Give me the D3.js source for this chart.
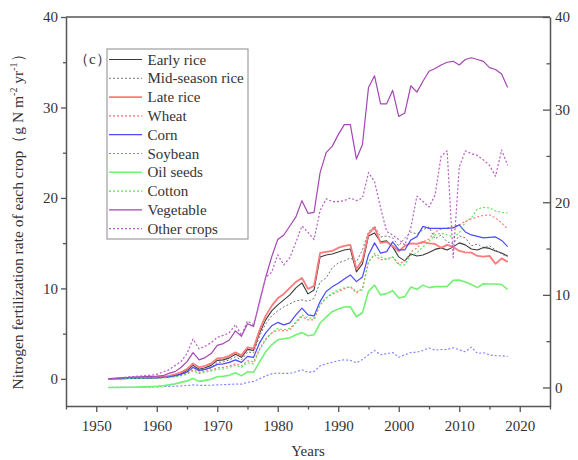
<!DOCTYPE html>
<html>
<head>
<meta charset="utf-8">
<script src="https://cdn.jsdelivr.net/npm/d3@7"></script>
<style>
  html, body { margin: 0; padding: 0; background: #fff; }
  svg { display: block; }
  text { font-family: "Liberation Serif", "Times New Roman", serif; fill: #333; }
</style>
</head>
<body>
<svg id="chart" width="578" height="460"></svg>
<script>
// Years of record
const years = [1952,1953,1954,1955,1956,1957,1958,1959,1960,
  1961,1962,1963,1964,1965,1966,1967,1968,1969,1970,
  1971,1972,1973,1974,1975,1976,1977,1978,1979,1980,
  1981,1982,1983,1984,1985,1986,1987,1988,1989,1990,
  1991,1992,1993,1994,1995,1996,1997,1998,1999,2000,
  2001,2002,2003,2004,2005,2006,2007,2008,2009,2010,
  2011,2012,2013,2014,2015,2016,2017,2018];

// Nitrogen fertilization rate by crop (g N m-2 yr-1)
const earlyRice = [0,0.02,0.04,0.05,0.07,0.08,0.1,0.11,0.13,
  0.15,0.22,0.39,0.57,0.94,1.49,1.07,1.22,1.49,2.04,
  2.10,2.32,2.71,2.38,3.26,3.15,5.08,6.52,7.51,8.18,
  8.73,9.28,10.06,10.61,9.39,9.83,13.48,13.70,13.81,14.03,
  14.25,14.36,11.82,12.71,15.80,16.13,15.14,15.25,14.59,13.48,
  13.04,13.81,13.59,13.70,13.98,14.31,14.48,14.25,14.59,15.03,
  14.81,14.36,14.25,14.53,14.42,14.14,13.92,13.59];
const midRice = [0,0.02,0.03,0.05,0.06,0.07,0.09,0.1,0.12,
  0.13,0.19,0.30,0.44,0.72,1.22,0.88,0.99,1.22,1.82,
  1.88,2.10,2.43,2.10,2.98,2.87,4.75,6.08,6.96,7.51,
  7.96,8.29,8.62,8.73,8.56,8.90,10.72,11.16,12.27,12.82,
  13.04,13.37,12.93,14.25,16.24,16.91,15.69,15.80,15.58,14.70,
  15.58,16.24,16.02,16.46,16.80,15.47,15.91,15.14,14.92,15.80,
  15.58,14.70,14.92,14.48,14.70,14.25,13.81,13.48];
const lateRice = [0,0.02,0.04,0.07,0.09,0.11,0.13,0.17,0.2,
  0.24,0.33,0.5,0.72,1.1,1.71,1.27,1.44,1.71,2.27,
  2.32,2.54,2.93,2.6,3.48,3.37,5.41,6.96,8.07,8.9,
  9.39,10.06,10.72,11.16,9.94,10.28,13.92,14.03,14.14,14.48,
  14.7,14.81,12.15,13.15,16.02,16.74,15.03,15.14,14.7,14.09,
  14.7,14.97,14.92,15.14,14.97,14.92,14.48,14.81,14.59,14.14,
  13.98,13.95,13.59,13.51,13.59,12.71,13.32,12.93];
const wheat = [0,0.01,0.02,0.03,0.04,0.05,0.06,0.07,0.09,
  0.11,0.17,0.28,0.39,0.61,0.99,0.72,0.83,0.99,1.22,
  1.27,1.44,1.66,1.44,1.99,1.88,3.31,4.42,5.08,5.41,
  5.30,5.41,6.19,6.88,6.52,6.52,8.18,8.95,9.34,9.65,
  9.94,10.20,9.47,10.02,12.93,13.70,13.15,13.26,13.48,12.71,
  13.04,14.03,14.48,15.14,15.47,16.24,16.57,16.69,16.80,17.02,
  17.40,17.68,17.90,18.07,18.12,17.79,17.24,16.57];
const corn = [0,0.01,0.02,0.04,0.05,0.06,0.07,0.09,0.1,
  0.17,0.22,0.33,0.50,0.77,1.27,0.94,1.05,1.27,1.60,
  1.66,1.82,2.10,1.82,2.49,2.38,3.98,5.08,5.86,6.24,
  5.97,6.19,7.07,7.81,7.07,6.96,8.54,9.65,10.17,10.57,
  11.05,11.49,10.75,11.27,13.70,15.03,13.89,14.07,15.14,14.25,
  14.25,15.36,15.72,16.85,16.63,16.63,16.63,16.63,16.69,17.02,
  16.24,15.91,15.75,15.58,15.64,15.69,15.30,14.62];
const soybean = [0,0.01,0.01,0.01,0.01,0.01,0.02,0.04,0.06,
  0.09,0.12,0.14,0.17,0.21,0.28,0.23,0.23,0.25,0.28,
  0.30,0.34,0.37,0.36,0.55,0.66,0.93,1.26,1.47,1.55,
  1.52,1.52,1.69,1.91,1.64,1.72,2.34,2.55,2.72,2.88,
  2.99,2.94,2.66,3.02,3.53,4.00,3.53,3.64,3.78,3.26,
  3.53,3.78,3.81,4.00,4.26,4.04,4.10,4.10,4.29,4.07,
  3.85,4.36,3.68,3.75,3.53,3.42,3.42,3.35];
const oilSeeds = [0,0,0.01,0.02,0.03,0.04,0.06,0.09,0.12,
  0.17,0.28,0.39,0.55,0.71,0.98,0.66,0.77,0.88,1.15,
  1.21,1.31,1.58,1.26,1.69,1.64,2.77,3.85,4.61,5.15,
  5.26,5.37,5.69,5.94,5.58,5.69,6.96,7.60,8.18,8.48,
  8.69,8.72,7.64,8.07,10.38,11.05,10.00,10.13,10.45,9.67,
  9.81,10.84,10.60,11.05,10.78,10.89,10.89,10.92,11.57,11.59,
  11.38,11.11,10.78,11.20,11.18,11.18,11.11,10.60];
const cotton = [0,0.01,0.02,0.03,0.04,0.05,0.06,0.07,0.09,
  0.11,0.14,0.22,0.33,0.50,0.88,0.61,0.72,0.88,1.05,
  1.10,1.27,1.49,1.27,1.77,1.66,3.20,4.31,5.08,5.58,
  5.41,5.60,6.30,7.07,6.74,6.71,8.18,8.95,9.50,9.83,
  10.06,10.20,9.65,9.83,12.93,13.87,13.48,13.15,13.48,12.60,
  12.60,13.65,13.92,14.59,15.19,15.91,16.10,15.91,15.64,16.13,
  17.35,17.79,18.78,18.95,18.90,18.56,18.40,18.34];
const vegetable = [0,0.05,0.1,0.15,0.2,0.22,0.25,0.28,0.3,
  0.35,0.6,0.8,1.25,1.9,2.9,2.1,2.35,2.8,3.7,
  3.9,4.3,5.3,4.7,6.1,5.8,8.6,11.2,13.5,15.4,
  15.9,16.9,17.9,19.7,18.3,18.4,22.8,25.0,25.7,27.0,
  28.1,28.1,24.3,25.9,32.2,33.5,30.4,30.4,31.9,29.0,
  29.4,32.4,31.7,32.9,34.0,34.3,34.7,35.0,35.1,34.7,
  35.3,35.5,35.3,35.1,34.4,34.2,33.7,32.2];
const otherCrops = [0,0.05,0.1,0.2,0.25,0.3,0.35,0.4,0.5,
  0.75,1.0,1.45,1.9,2.8,4.4,3.3,3.6,4.0,4.6,
  4.8,5.1,6.0,4.8,6.4,6.0,8.4,11.2,11.8,13.7,
  12.6,13.4,15.1,16.9,16.2,15.4,18.6,19.9,19.6,19.6,
  19.7,20.0,19.7,20.0,22.8,21.8,18.9,16.3,15.9,15.4,
  14.8,16.7,20.2,19.6,19.0,20.3,24.6,25.2,13.4,23.4,
  25.2,24.9,24.7,24.2,23.6,22.4,25.3,23.6];

const xTicks = [1950, 1960, 1970, 1980, 1990, 2000, 2010, 2020];
const xMinorTicks = [1945, 1955, 1965, 1975, 1985, 1995, 2005, 2015, 2025];
const yTicks = [0, 10, 20, 30, 40];
const yMinorTicks = [5, 15, 25, 35];

// Series definitions: name, values, which y axis, stroke, width, dashed
const series = [
  { name: "Early rice",      values: earlyRice,  axis: "left",  color: "#3a3a3a", width: 1.1, dash: null },
  { name: "Mid-season rice", values: midRice,    axis: "left",  color: "#747474", width: 1.0, dash: "2,2" },
  { name: "Late rice",       values: lateRice,   axis: "left",  color: "#ff7a7a", width: 1.8, dash: null },
  { name: "Wheat",           values: wheat,      axis: "left",  color: "#ff7070", width: 1.1, dash: "2,2" },
  { name: "Corn",            values: corn,       axis: "left",  color: "#4a4aff", width: 1.2, dash: null },
  { name: "Soybean",         values: soybean,    axis: "right", color: "#7c7cff", width: 1.1, dash: "2,2" },
  { name: "Oil seeds",       values: oilSeeds,   axis: "right", color: "#72f272", width: 1.6, dash: null },
  { name: "Cotton",          values: cotton,     axis: "left",  color: "#4ee84e", width: 1.1, dash: "2,2" },
  { name: "Vegetable",       values: vegetable,  axis: "left",  color: "#a347b3", width: 1.2, dash: null },
  { name: "Other crops",     values: otherCrops, axis: "left",  color: "#b65cc2", width: 1.2, dash: "2,2" }
];

const svg = d3.select("#chart");
const plot = { left: 66, right: 550, top: 17, bottom: 406 };
const serif = "'Liberation Serif', 'Times New Roman', serif";

const x = d3.scaleLinear().domain([1945, 2025]).range([plot.left, plot.right]);
const yLeft = d3.scaleLinear().domain([-3, 40]).range([plot.bottom, plot.top]);
const yRight = d3.scaleLinear().domain([-2, 40]).range([plot.bottom, plot.top]);

const frameColor = "#555";

// Data lines
const lineGroup = svg.append("g");
series.forEach(s => {
  const yScale = s.axis === "left" ? yLeft : yRight;
  const line = d3.line()
    .x((d, i) => x(years[i]))
    .y(d => yScale(d));
  lineGroup.append("path")
    .datum(s.values)
    .attr("fill", "none")
    .attr("stroke", s.color)
    .attr("stroke-width", s.width)
    .attr("stroke-dasharray", s.dash)
    .attr("stroke-linejoin", "round")
    .attr("d", line);
});

// Frame: top edge
svg.append("line")
  .attr("x1", plot.left).attr("x2", plot.right)
  .attr("y1", plot.top).attr("y2", plot.top)
  .attr("stroke", frameColor).attr("stroke-width", 1.5);

function styleAxis(g) {
  g.attr("font-family", serif).attr("font-size", 15);
  g.select(".domain").attr("stroke", frameColor).attr("stroke-width", 1.5);
  g.selectAll(".tick line").attr("stroke", frameColor).attr("stroke-width", 1.3);
  g.selectAll(".tick text").attr("fill", "#333");
}
function styleMinor(g) {
  g.select(".domain").remove();
  g.selectAll(".tick line").attr("stroke", frameColor).attr("stroke-width", 1.3);
}

// Bottom axis
const xAxis = svg.append("g")
  .attr("transform", `translate(0,${plot.bottom})`)
  .call(d3.axisBottom(x).tickValues(xTicks).tickFormat(d3.format("d"))
    .tickSizeInner(6).tickSizeOuter(0).tickPadding(8));
styleAxis(xAxis);
svg.append("g")
  .attr("transform", `translate(0,${plot.bottom})`)
  .call(d3.axisBottom(x).tickValues(xMinorTicks).tickFormat("").tickSizeInner(3.5).tickSizeOuter(0))
  .call(styleMinor);

// Left axis
const yAxisL = svg.append("g")
  .attr("transform", `translate(${plot.left},0)`)
  .call(d3.axisLeft(yLeft).tickValues(yTicks).tickSizeInner(5).tickSizeOuter(0).tickPadding(3));
styleAxis(yAxisL);
svg.append("g")
  .attr("transform", `translate(${plot.left},0)`)
  .call(d3.axisLeft(yLeft).tickValues(yMinorTicks).tickFormat("").tickSizeInner(3).tickSizeOuter(0))
  .call(styleMinor);

// Right axis, ticks pointing inward
const yAxisR = svg.append("g")
  .attr("transform", `translate(${plot.right},0)`)
  .call(d3.axisRight(yRight).tickValues(yTicks).tickSizeInner(-7).tickSizeOuter(0).tickPadding(5));
styleAxis(yAxisR);
svg.append("g")
  .attr("transform", `translate(${plot.right},0)`)
  .call(d3.axisRight(yRight).tickValues(yMinorTicks).tickFormat("").tickSizeInner(-3.5).tickSizeOuter(0))
  .call(styleMinor);

// Axis titles
svg.append("text")
  .attr("x", (plot.left + plot.right) / 2)
  .attr("y", 456)
  .attr("text-anchor", "middle")
  .style("font-size", "15px")
  .text("Years");

const yTitle = svg.append("text")
  .attr("transform", "translate(23,218) rotate(-90)")
  .attr("text-anchor", "middle")
  .style("font-size", "15.5px");
yTitle.append("tspan").text("Nitrogen fertilization rate of each crop（g N m");
yTitle.append("tspan").attr("dy", -6).style("font-size", "10px").text("-2");
yTitle.append("tspan").attr("dy", 6).text(" yr");
yTitle.append("tspan").attr("dy", -6).style("font-size", "10px").text("-1");
yTitle.append("tspan").attr("dy", 6).text("）");

// Panel label
svg.append("text")
  .attr("x", 74).attr("y", 64)
  .style("font-size", "15px")
  .text("（c）");

// Legend
const legend = { x: 107, y: 49, w: 141, h: 190, row: 18.8 };
svg.append("rect")
  .attr("x", legend.x).attr("y", legend.y)
  .attr("width", legend.w).attr("height", legend.h)
  .attr("fill", "#fff").attr("stroke", "#8a8a8a").attr("stroke-width", 1);
series.forEach((s, i) => {
  const cy = legend.y + 10.5 + i * legend.row;
  svg.append("line")
    .attr("x1", legend.x + 2).attr("x2", legend.x + 35)
    .attr("y1", cy).attr("y2", cy)
    .attr("stroke", s.color)
    .attr("stroke-width", s.width)
    .attr("stroke-dasharray", s.dash);
  svg.append("text")
    .attr("x", legend.x + 40.5).attr("y", cy + 5)
    .style("font-size", "15px")
    .text(s.name);
});
</script>
</body>
</html>
